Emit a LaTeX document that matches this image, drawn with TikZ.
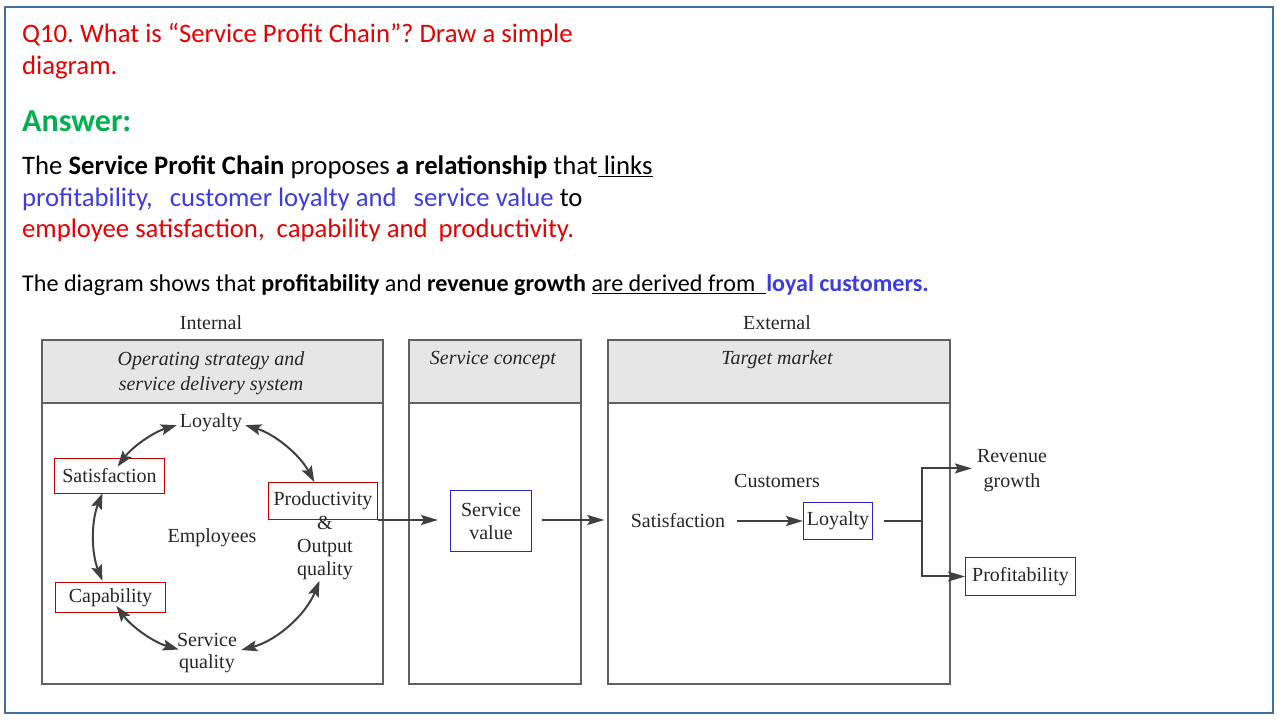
\documentclass[tikz,border=0pt]{standalone}
\usepackage{fontspec}
\setmainfont{Carlito}
\newfontfamily\tms{Liberation Serif}
\usetikzlibrary{arrows.meta,calc}
\definecolor{qred}{HTML}{E60000}
\definecolor{qblue}{HTML}{3C3CE0}
\definecolor{qgreen}{HTML}{00B050}
\definecolor{framec}{HTML}{41719C}
\definecolor{boxred}{HTML}{C00000}
\definecolor{boxblue}{HTML}{2828C0}
\definecolor{dline}{HTML}{404040}
\definecolor{hdr}{HTML}{E6E6E6}
\definecolor{panelc}{HTML}{606060}
\frenchspacing
\begin{document}
\begin{tikzpicture}[x=1pt,y=1pt,
  txt/.style={inner sep=0, anchor=base west, font=\fontsize{26.7}{32}\selectfont},
  smalltxt/.style={inner sep=0, anchor=base west, font=\fontsize{24.1}{28}\selectfont},
  dtext/.style={inner sep=0, font=\tms\fontsize{20}{23}\selectfont, align=center, text=black!85},
  htext/.style={dtext, font=\tms\itshape\fontsize{20}{25}\selectfont},
  panel/.style={draw=panelc, line width=1.4, minimum height=344, inner sep=0},
  header/.style={draw=panelc, fill=hdr, line width=1.4, minimum height=63, anchor=north, inner sep=0},
  redbox/.style={dtext, draw=boxred, line width=1},
  bluebox/.style={dtext, draw=boxblue, line width=1},
  conn/.style={draw=dline, line width=2},
  arr/.style={conn, -{Stealth[length=17pt, width=10pt, inset=3pt]}},
  dbl/.style={conn, {Stealth[length=16pt, width=11pt, inset=3pt]}-{Stealth[length=16pt, width=11pt, inset=3pt]}}
]
\useasboundingbox (0,0) rectangle (1280,720);
\draw[framec, line width=1.2] (5,7) rectangle (1273,713);

% ---- texts
\node[txt, text=qred] (q1) at (22,677) {Q10. What is “Service Profit Chain”? Draw a simple};
\node[txt, text=qred] (q2) at (22,645) {diagram.};
\node[txt, text=qgreen, font=\bfseries\fontsize{32}{38}\selectfont] (ans) at (22,588) {Answer:};
\node[txt] (l1) at (22,545) {The \textbf{Service Profit Chain} proposes \textbf{a relationship} that\underline{\ links}};
\node[txt] (l2) at (22,513) {{\color{qblue}profitability,\hspace{11pt} customer loyalty and\hspace{11pt} service value} to};
\node[txt, text=qred] (l3) at (22,482) {employee satisfaction,\hspace{6pt} capability and\hspace{5pt} productivity.};
\node[smalltxt] (l4) at (22,428) {The diagram shows that \textbf{profitability} and \textbf{revenue growth} \underline{are derived from\ \ }{\color{qblue}\bfseries loyal customers.}};

% ---- panels
\node[panel, minimum width=341] (p1) at (212.5,208) {};
\node[header, minimum width=341] (h1) at (p1.north) {};
\node[panel, minimum width=172] (p2) at (495,208) {};
\node[header, minimum width=172] (h2) at (p2.north) {};
\node[panel, minimum width=342] (p3) at (779,208) {};
\node[header, minimum width=342] (h3) at (p3.north) {};

\node[dtext, anchor=base] (internal) at (211,390) {Internal};
\node[dtext, anchor=base] (external) at (777,390) {External};
\node[htext, anchor=north] (ht1) at (211,369) {Operating strategy and\\service delivery system};
\node[htext, anchor=base] (ht2) at (493,355) {Service concept};
\node[htext, anchor=base] (ht3) at (777,355) {Target market};

% ---- employee cycle
\coordinate (c) at (211,183);
\node[dtext, anchor=base] (loy) at (211,292) {Loyalty};
\node[redbox, minimum width=110, minimum height=35] (sat) at (109.5,244) {Satisfaction};
\node[redbox, minimum width=110, minimum height=30] (cap) at (110.5,122.5) {Capability};
\node[redbox, minimum width=109, minimum height=37] (prod) at (323,219) {Productivity};
\node[dtext, anchor=north, font=\tms\fontsize{20}{23}\selectfont] (outq) at (325,204) {\&\\Output\\quality};
\node[dtext, anchor=base] (emp) at (212,177) {Employees};
\node[dtext, anchor=north, font=\tms\fontsize{20}{22}\selectfont] (sq) at (207,87) {Service\\quality};

\draw[dbl] ($(c)+(107:117)$) arc[start angle=107, end angle=143, radius=117];
\draw[dbl] ($(c)+(73:117)$) arc[start angle=73, end angle=28, radius=117];
\draw[dbl] ($(c)+(158:117)$) arc[start angle=158, end angle=202, radius=117];
\draw[dbl] ($(c)+(216:117)$) arc[start angle=216, end angle=254, radius=117];
\draw[dbl] ($(c)+(285:117)$) arc[start angle=285, end angle=338, radius=117];

% ---- service concept
\node[bluebox, minimum width=81, minimum height=61] (sv) at (491,199) {Service\\value};

% ---- customers
\node[dtext, anchor=base] (csat) at (678,192) {Satisfaction};
\node[dtext, anchor=base] (cust) at (777,232) {Customers};
\node[bluebox, minimum width=69, minimum height=37] (lbox) at (838,199) {Loyalty};
\node[dtext, anchor=north, font=\tms\fontsize{20}{25}\selectfont] (rev) at (1012,271) {Revenue\\growth};
\node[bluebox, minimum width=110, minimum height=38] (prof) at (1020.5,143.5) {Profitability};

% ---- connectors
\draw[arr, shorten >=12pt] (prod.south east) -- (prod.south east -| sv.west);
\draw[arr, shorten >=3pt] ([xshift=10pt]sv.east |- prod.south east) -- (prod.south east -| p3.west);
\draw[arr] ([xshift=12pt]csat.east |- lbox.west) -- (lbox.west);
\path (lbox.east) ++(48.5,0) coordinate (br);
\draw[conn] ([xshift=11pt]lbox.east) -- (br);
\draw[arr] (br) |- ([shift={(-5pt,2pt)}]rev.west);
\draw[arr] (br) |- (prof.west);
\end{tikzpicture}
\end{document}
